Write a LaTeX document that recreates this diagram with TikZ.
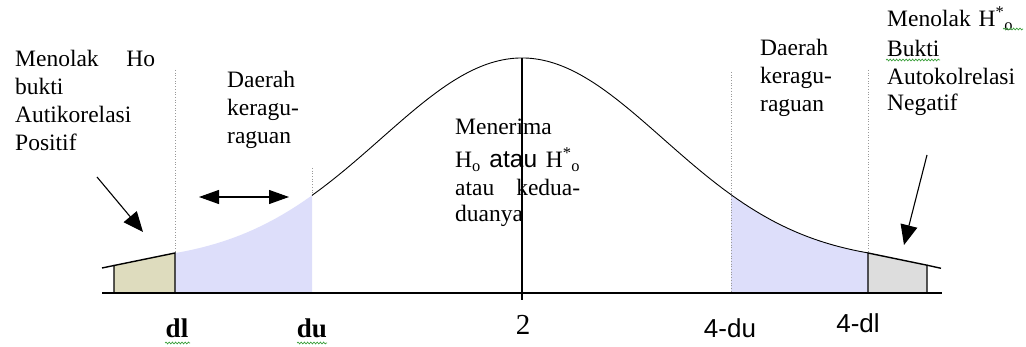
\documentclass[tikz,border=0pt]{standalone}
\usepackage{fontspec}
\setmainfont{Liberation Serif}
\setsansfont{Liberation Sans}
\usetikzlibrary{arrows.meta,decorations.pathmorphing}
\definecolor{bluefill}{HTML}{DDDEFA}
\definecolor{beigefill}{HTML}{DEDCBE}
\definecolor{grayfill}{HTML}{DDDDDD}
\definecolor{squig}{HTML}{3CA03C}
\tikzset{
  txt/.style={inner sep=0pt, anchor=base west, align=left, text width=165pt,
    font=\fontsize{23.5}{28}\selectfont},
  axlbl/.style={inner sep=0pt, anchor=base, font=\fontsize{27}{30}\selectfont},
  axlblsf/.style={inner sep=0pt, anchor=base, font=\sffamily\fontsize{26}{30}\selectfont},
  dotv/.style={draw=black!40, line width=0.7pt, dotted},
  bigarrow/.style={line width=1.1pt, -{Triangle[length=20pt,width=17pt]}},
  dblarrow/.style={line width=1.1pt, {Triangle[length=20pt,width=14pt]}-{Triangle[length=20pt,width=14pt]}},
  tail/.style={draw=black, line width=1.4pt},
  curve/.style={draw=black, line width=0.9pt},
  wavy/.style={draw=squig, line width=0.7pt, decorate,
    decoration={snake, amplitude=0.9pt, segment length=3.2pt}}
}
\begin{document}
\begin{tikzpicture}[x=1pt,y=-1pt]
\useasboundingbox (0,0) rectangle (1026,347);
% key coordinates
\coordinate (axL) at (102,293);
\coordinate (axR) at (942,293);
\coordinate (dlB) at (175,293);
\coordinate (dlT) at (175,253);
\coordinate (duB) at (312,293);
\coordinate (duT) at (312,195.4);
\coordinate (cB) at (522,300);
\coordinate (cT) at (522,58);
\coordinate (udB) at (731,293);
\coordinate (ulB) at (868,293);
\coordinate (ulT) at (868,253);
% fills
\fill[bluefill] (dlB) -- plot[domain=175:312, samples=60] (\x,{263-205*exp(-0.5*((\x-522)/141)^2)}) -- (duB) -- cycle;
\fill[bluefill] (udB) -- plot[domain=731:868, samples=60] (\x,{263-205*exp(-0.5*((\x-522)/141)^2)}) -- (ulB) -- cycle;
% tails
\filldraw[tail, fill=beigefill] (114,293) -- (114,265.5) -- (dlT) -- (dlB);
\draw[tail] (102,268) -- (114,265.5);
\filldraw[tail, fill=grayfill] (ulB) -- (ulT) -- (927,265.2) -- (927,293);
\draw[tail] (927,265.2) -- (941,268.3);
% dotted verticals
\draw[dotv] (175,70) -- (dlT);
\draw[dotv] (312,168) -- (duT);
\draw[dotv] (731,72) -- (udB);
\draw[dotv] (868,70) -- (ulT);
% curve
\draw[curve] plot[domain=312:868, samples=150] (\x,{263-205*exp(-0.5*((\x-522)/141)^2)});
% axis and centre
\draw[line width=1.4pt] (axL) -- (axR);
\draw[line width=1.1pt] (cT) -- (cB);
% texts
\node[txt] (t1) at (15,66.7) {\makebox[140pt][l]{Menolak\hfill Ho}\\bukti\\Autikorelasi\\Positif};
\node[txt] (t2) at (227,88) {Daerah\\keragu-\\raguan};
\node[txt] (t3) at (455,135) {Menerima\\[5pt]\makebox[125pt][l]{H\textsubscript{o}\hfill{\sffamily\fontsize{24.5}{28}\selectfont atau}\hfill H\textsuperscript{*}\textsubscript{o}}\\\makebox[125pt][l]{atau\hfill kedua-}\\[-2pt]duanya};
\node[txt] (t4) at (760,56) {Daerah\\keragu-\\raguan};
\node[txt] (t5) at (887,27) {Menolak H\textsuperscript{*}\textsubscript{o}\\[2pt]Bukti\\Autokolrelasi\\[-2pt]Negatif};
% axis labels
\node[axlbl, font=\bfseries\fontsize{27}{30}\selectfont] (ldl) at (177,338) {dl};
\node[axlbl, font=\bfseries\fontsize{27}{30}\selectfont] (ldu) at (312,338) {du};
\node[axlbl, font=\fontsize{29}{30}\selectfont] (l2) at (523,335) {2};
\node[axlblsf] (l4du) at (730,338) {4-du};
\node[axlblsf] (l4dl) at (858,333) {4-dl};
% spell-check squiggles
\draw[wavy] (165,343) -- (190,343);
\draw[wavy] (297,343) -- (327,343);
\draw[wavy] (886,60) -- (940,60);
\draw[wavy] (1003,29) -- (1023,29);
% arrows
\coordinate (a1s) at (97,177);
\coordinate (a1e) at (143,232);
\coordinate (a2s) at (927,155);
\coordinate (a2e) at (904,245);
\coordinate (d1) at (199,197);
\coordinate (d2) at (289,197);
\draw[bigarrow] (a1s) -- (a1e);
\draw[bigarrow] (a2s) -- (a2e);
\draw[dblarrow] (d1) -- (d2);
\end{tikzpicture}
\end{document}
